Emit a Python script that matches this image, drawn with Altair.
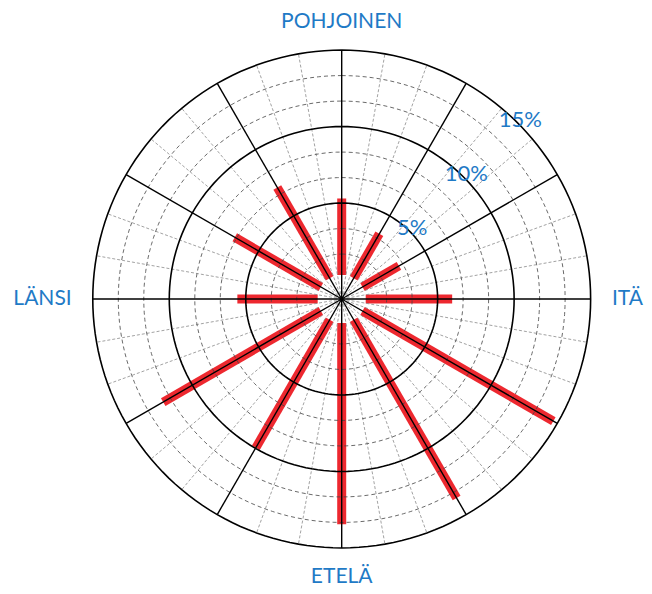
import altair as alt
import pandas as pd
import numpy as np

# ---------------- data ----------------
directions = [0, 30, 60, 90, 120, 150, 180, 210, 240, 270, 300, 330]
frequency = [5.3, 3.65, 3.05, 5.95, 14.7, 13.75, 13.45, 9.95, 12.2, 5.55, 6.8, 7.15]

major_rings = [5, 10, 15]
minor_rings = [1.667, 3.333, 6.667, 8.333, 11.667, 13.333]
ring_labels = ["5%", "10%", "15%"]

compass_names = ["POHJOINEN", "ITÄ", "ETELÄ", "LÄNSI"]
compass_angles = [0, 90, 180, 270]

major_spokes = list(range(0, 360, 30))
minor_spokes = [a for a in range(0, 360, 10) if a % 30 != 0]

# ---------------- geometry constants (styling) ----------------
OFFSET = 1.27      # radial offset of the zero ring, in % units
HOLE = 1.57        # where the bars start
R_MAX = 15
PX = 15.3          # pixels per % unit
W, H = 636, 578
CX, CY = 333.7, 291.0
BLUE = "#1F7AC6"
RED = "#EC1C24"
FONT = "Lato"

xscale = alt.Scale(domain=[-CX / PX, (W - CX) / PX], nice=False, zero=False)
yscale = alt.Scale(domain=[-(H - CY) / PX, CY / PX], nice=False, zero=False)


def XY(xf="x", yf="y"):
    return dict(x=alt.X(f"{xf}:Q", scale=xscale, axis=None),
                y=alt.Y(f"{yf}:Q", scale=yscale, axis=None))


# ---------------- bars ----------------
bars_df = pd.DataFrame({"dir": directions, "freq": frequency})
bars = alt.Chart(bars_df).transform_calculate(
    rad="datum.dir * PI / 180",
    r0=f"{HOLE}",
    r1=f"datum.freq + {OFFSET}",
).transform_calculate(
    x="datum.r0 * sin(datum.rad)", y="datum.r0 * cos(datum.rad)",
    x2="datum.r1 * sin(datum.rad)", y2="datum.r1 * cos(datum.rad)",
).mark_rule(color=RED, strokeWidth=9, strokeCap="butt", opacity=0.95).encode(
    **XY(), x2="x2:Q", y2="y2:Q"
)

# ---------------- rings ----------------
angles = np.arange(0, 361, 2)
def ring_table(rings):
    return pd.DataFrame([(r, a) for r in rings for a in angles], columns=["ring", "ang"])

ring_calc = dict(
    x=f"(datum.ring + {OFFSET}) * sin(datum.ang * PI / 180)",
    y=f"(datum.ring + {OFFSET}) * cos(datum.ang * PI / 180)",
)

minor_ring_layer = alt.Chart(ring_table(minor_rings)).transform_calculate(**ring_calc).mark_line(
    color="#444444", strokeWidth=0.8, strokeDash=[4, 3]
).encode(**XY(), detail="ring:N", order="ang:Q")

major_ring_layer = alt.Chart(ring_table(major_rings)).transform_calculate(**ring_calc).mark_line(
    color="black", strokeWidth=1.6
).encode(**XY(), detail="ring:N", order="ang:Q")

# ---------------- spokes ----------------
def spoke_layer(angle_list, **style):
    df = pd.DataFrame({"ang": angle_list})
    return alt.Chart(df).transform_calculate(
        rad="datum.ang * PI / 180",
    ).transform_calculate(
        x="0", y="0",
        x2=f"{R_MAX + OFFSET} * sin(datum.rad)",
        y2=f"{R_MAX + OFFSET} * cos(datum.rad)",
    ).mark_rule(**style).encode(**XY(), x2="x2:Q", y2="y2:Q")

minor_spoke_layer = spoke_layer(minor_spokes, color="#8a8a8a", strokeWidth=0.8, strokeDash=[3, 2])
major_spoke_layer = spoke_layer(major_spokes, color="black", strokeWidth=1.4)

# ---------------- ring labels ----------------
rl_df = pd.DataFrame({"ring": major_rings, "label": ring_labels})
ring_text = alt.Chart(rl_df).transform_calculate(
    x=f"(datum.ring + {OFFSET} + 0.25) * sin(PI / 4)",
    y=f"(datum.ring + {OFFSET} + 0.25) * cos(PI / 4)",
).mark_text(font=FONT, fontSize=22, color=BLUE, align="center", baseline="middle").encode(
    **XY(), text="label:N"
)

# ---------------- compass labels ----------------
comp_df = pd.DataFrame({"name": compass_names, "ang": compass_angles})

def compass_layer(angle, radius, align):
    return alt.Chart(comp_df).transform_filter(f"datum.ang == {angle}").transform_calculate(
        x=f"{radius} * sin(datum.ang * PI / 180)",
        y=f"{radius} * cos(datum.ang * PI / 180)",
    ).mark_text(font=FONT, fontSize=21, color=BLUE, align=align, baseline="middle").encode(
        **XY(), text="name:N"
    )

compass = [
    compass_layer(0, 18.1, "center"),
    compass_layer(90, 19.69, "right"),
    compass_layer(180, 18.2, "center"),
    compass_layer(270, 17.65, "right"),
]

chart = alt.layer(
    bars, minor_spoke_layer, minor_ring_layer, major_ring_layer, major_spoke_layer,
    ring_text, *compass
).properties(
    width=W, height=H, autosize=alt.AutoSizeParams(type="none"), padding=0,
    background="white"
).configure_view(stroke=None)

chart.save("out.html", embed_options={"renderer": "svg", "actions": False})
